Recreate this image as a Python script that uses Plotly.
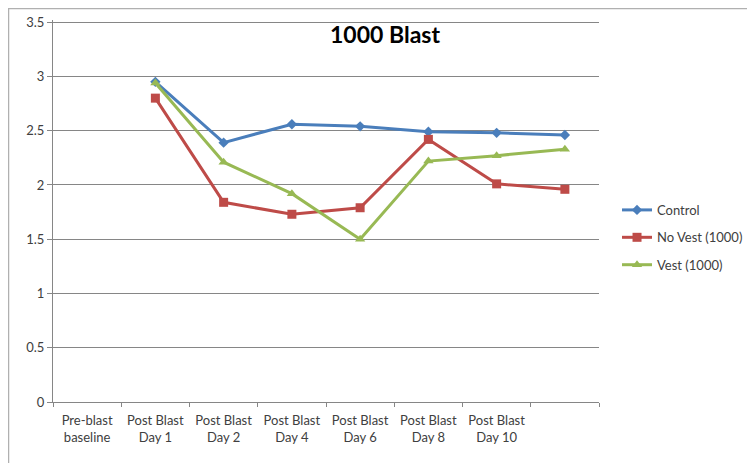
import plotly.graph_objects as go

categories = ["Pre-blast<br>baseline", "Post Blast<br>Day 1", "Post Blast<br>Day 2", "Post Blast<br>Day 4",
              "Post Blast<br>Day 6", "Post Blast<br>Day 8", "Post Blast<br>Day 10", " "]
point_categories = categories[1:]
control = [2.95, 2.39, 2.56, 2.54, 2.49, 2.48, 2.46]
no_vest = [2.80, 1.84, 1.73, 1.79, 2.42, 2.01, 1.96]
vest = [2.94, 2.21, 1.92, 1.50, 2.22, 2.27, 2.33]
y_ticks = [0, 0.5, 1, 1.5, 2, 2.5, 3, 3.5]
y_tick_labels = ["0", "0.5", "1", "1.5", "2", "2.5", "3", "3.5"]

font = "Lato, Liberation Sans, sans-serif"
L, T, PW, PH = 45, 12, 546, 382

fig = go.Figure()
fig.add_trace(go.Scatter(x=point_categories, y=control, name="Control", mode="lines+markers",
                         legendgroup="a",
                         line=dict(color="#4a7ebb", width=3),
                         marker=dict(symbol="diamond", size=8, color="#4a7ebb")))
fig.add_trace(go.Scatter(x=point_categories, y=no_vest, name="No Vest (1000)", mode="lines+markers",
                         legendgroup="b",
                         line=dict(color="#be4b48", width=3),
                         marker=dict(symbol="square", size=9, color="#be4b48")))
fig.add_trace(go.Scatter(x=point_categories, y=vest, name="Vest (1000)", mode="lines+markers",
                         legendgroup="c",
                         line=dict(color="#98b954", width=3),
                         marker=dict(symbol="triangle-up", size=9, color="#98b954")))

fig.update_layout(
    width=755, height=463,
    margin=dict(l=L, r=755 - L - PW, t=T, b=463 - T - PH, autoexpand=False),
    paper_bgcolor="white", plot_bgcolor="white",
    font=dict(family=font, size=13, color="#404040"),
    title=dict(text="<b>1000 Blast</b>", x=(377 - L) / PW, xref="paper", xanchor="center",
               y=1 - 27 / 463, yref="container", yanchor="middle",
               font=dict(family=font, size=23, color="black")),
    showlegend=True,
    legend=dict(x=1.033, y=0.542, xanchor="left", yanchor="top", font=dict(size=13, color="#404040"),
                bgcolor="rgba(0,0,0,0)", itemwidth=30, tracegroupgap=7.5, traceorder="grouped"),
    xaxis=dict(type="category", categoryorder="array", categoryarray=categories,
               tickmode="array", tickvals=categories, ticktext=categories, automargin=False,
               range=[-0.5, 7.5], showgrid=False, showline=True, linecolor="#868686", linewidth=1,
               ticks="outside", tickson="boundaries", ticklen=4, tickcolor="#868686",
               ticklabelstandoff=6,
               tickfont=dict(size=13, color="#404040")),
    yaxis=dict(range=[0, 3.52], tickvals=y_ticks, ticktext=y_tick_labels, automargin=False,
               showgrid=True, gridcolor="#868686", gridwidth=1,
               showline=True, linecolor="#868686", linewidth=1,
               ticks="outside", ticklen=5, tickcolor="#868686",
               tickfont=dict(size=13, color="#404040"), zeroline=False),
    shapes=[dict(type="rect", xref="paper", yref="paper", x0=(0.5 - L) / PW, x1=(740 - L) / PW,
                 y0=-0.3, y1=1 + (T - 0.5) / PH, line=dict(color="#b0b0b0", width=1.5),
                 fillcolor="rgba(0,0,0,0)", layer="below")],
)
fig.write_html("out.html")
